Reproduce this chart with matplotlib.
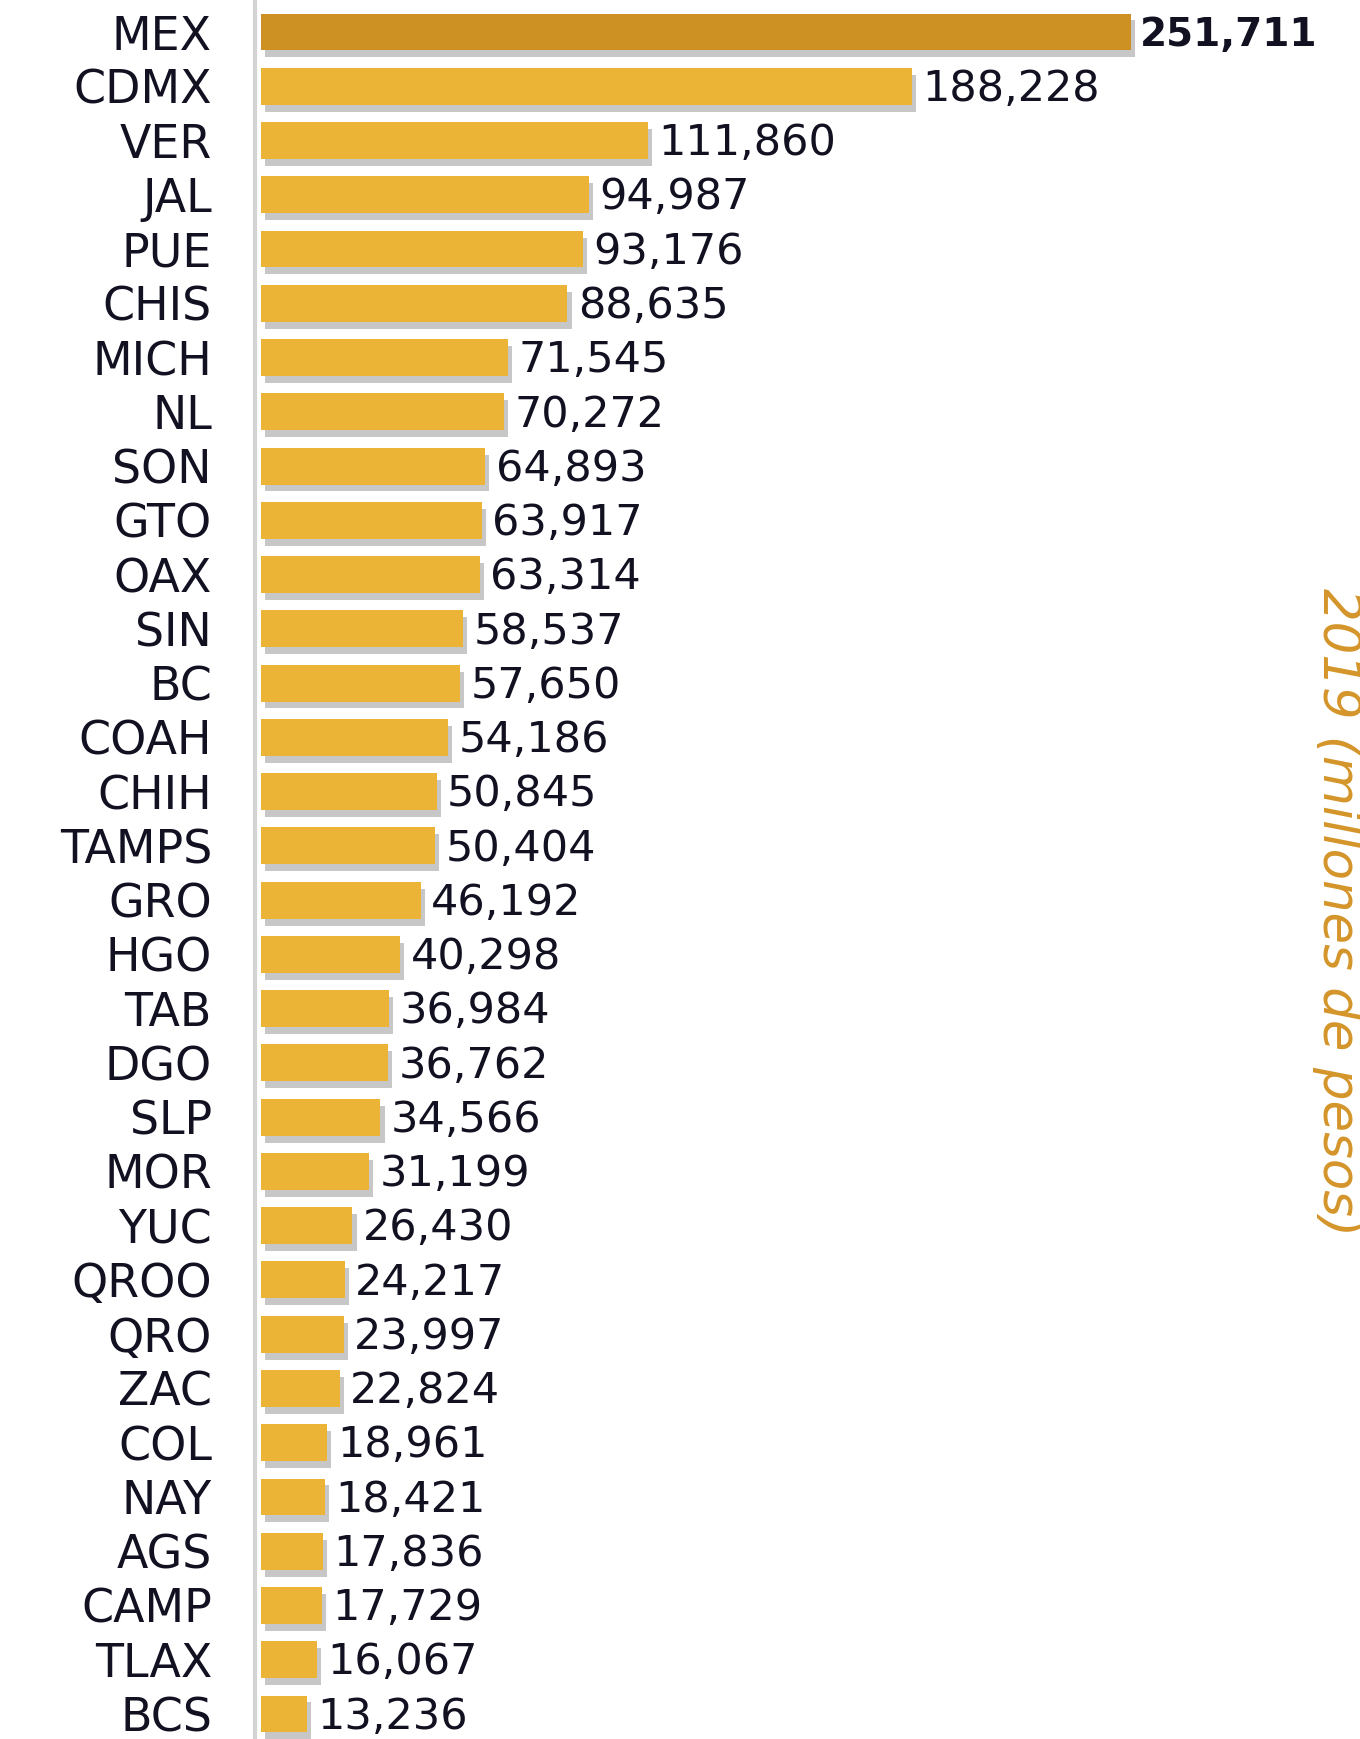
import matplotlib
matplotlib.use("Agg")
import matplotlib.pyplot as plt
import matplotlib.patheffects as pe

states = ["MEX", "CDMX", "VER", "JAL", "PUE", "CHIS", "MICH", "NL", "SON", "GTO",
          "OAX", "SIN", "BC", "COAH", "CHIH", "TAMPS", "GRO", "HGO", "TAB", "DGO",
          "SLP", "MOR", "YUC", "QROO", "QRO", "ZAC", "COL", "NAY", "AGS", "CAMP",
          "TLAX", "BCS"]
values = [251711, 188228, 111860, 94987, 93176, 88635, 71545, 70272, 64893, 63917,
          63314, 58537, 57650, 54186, 50845, 50404, 46192, 40298, 36984, 36762,
          34566, 31199, 26430, 24217, 23997, 22824, 18961, 18421, 17836, 17729,
          16067, 13236]
side_title = "2019 (millones de pesos)"

plt.rcParams['font.family'] = ['DejaVu Sans']

W, H = 1360, 1739
fig = plt.figure(figsize=(W / 100, H / 100), dpi=100)

# axes spans from the grey axis line to the right edge
ax = fig.add_axes([255 / W, 0, 1 - 255 / W, 1])
k = (1131 - 261) / 251711  # px per unit
ax.set_xlim(-(261 - 255) / k, (W - 261) / k)
step = (1714 - 32) / 31
ax.set_ylim((H - 32) / step, -32 / step)

ypos = list(range(len(states)))
colors = ["#CC9122"] + ["#EBB436"] * (len(states) - 1)
shadow = [pe.SimplePatchShadow(offset=(3, -5), shadow_rgbFace="#9a9a9a", alpha=0.55), pe.Normal()]
bars = ax.barh(ypos, values, height=0.68, color=colors, zorder=3)
for b in bars:
    b.set_path_effects(shadow)

for i, v in enumerate(values):
    if i == 0:
        ax.text(v + 2500, i + 0.05, f"{v:,}", va="center", ha="left", fontsize=28,
                color="#111122", fontweight="bold")
    else:
        ax.text(v + 3000, i + 0.05, f"{v:,}", va="center", ha="left", fontsize=31,
                color="#111122")

ax.set_yticks(ypos)
ax.set_yticklabels(states, fontsize=33, color="#111122")
ax.tick_params(axis="y", length=0, pad=31)
ax.set_xticks([])
for s in ["top", "right", "bottom"]:
    ax.spines[s].set_visible(False)
ax.spines["left"].set_color("#D3D3D3")
ax.spines["left"].set_linewidth(3)

fig.text(1312 / W, 1 - 912 / H, side_title, rotation=-90, ha="left", va="center",
         fontsize=37, style="italic", color="#D4952A")

fig.savefig("out.png", dpi=100)
